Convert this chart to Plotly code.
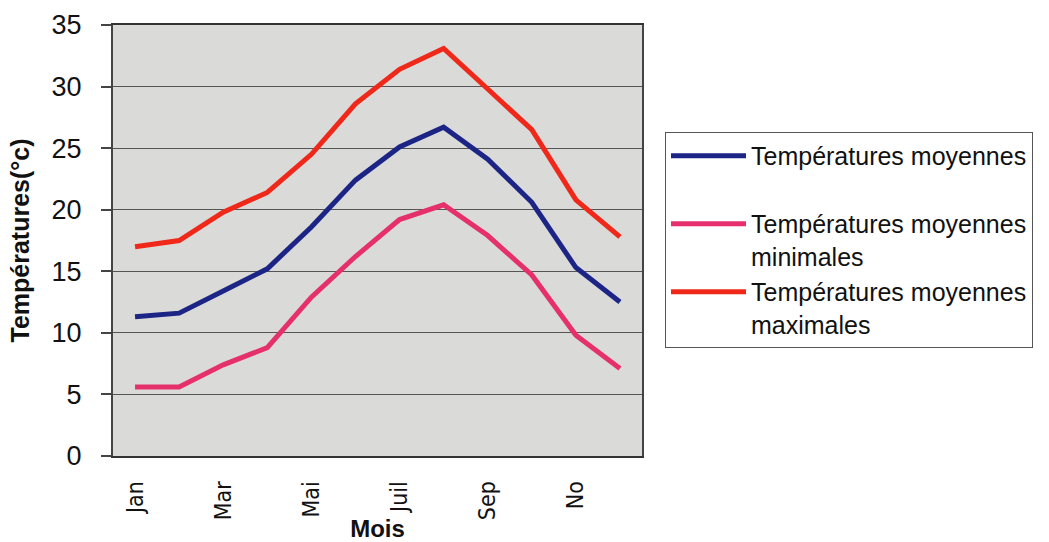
import plotly.graph_objects as go

months = ["Jan", "Fév", "Mar", "Avr", "Mai", "Juin", "Juil", "Août", "Sep", "Oct", "No", "Déc"]
tick_months = ["Jan", "Mar", "Mai", "Juil", "Sep", "No"]

t_moy = [11.3, 11.6, 13.4, 15.2, 18.6, 22.4, 25.1, 26.7, 24.1, 20.6, 15.3, 12.5]
t_min = [5.6, 5.6, 7.4, 8.8, 12.9, 16.2, 19.2, 20.4, 17.9, 14.7, 9.8, 7.1]
t_max = [17.0, 17.5, 19.8, 21.4, 24.5, 28.6, 31.4, 33.1, 29.8, 26.5, 20.8, 17.8]

names = ["Températures moyennes<br> ",
         "Températures moyennes<br>minimales",
         "Températures moyennes<br>maximales"]
colors = ["#1c2585", "#e5306c", "#f0281a"]

fig = go.Figure()
for i, (vals, name, col) in enumerate(zip([t_moy, t_min, t_max], names, colors)):
    fig.add_trace(go.Scatter(x=months, y=vals, mode="lines", name=name,
                             legendgroup="g%d" % i,
                             line=dict(color=col, width=5)))

font_main = "Liberation Sans, Arial, sans-serif"

fig.update_layout(
    width=1049, height=542,
    margin=dict(l=113, r=407, t=25, b=86, autoexpand=False),
    paper_bgcolor="white",
    plot_bgcolor="#dadad8",
    font=dict(family=font_main, color="#111111"),
    showlegend=True,
    legend=dict(
        x=1.0435, y=0.752, xanchor="left", yanchor="top",
        bordercolor="#555555", borderwidth=1,
        bgcolor="white",
        font=dict(size=25, family=font_main, color="#111111"),
        valign="top",
        tracegroupgap=0,
        itemwidth=75,
    ),
    xaxis=dict(
        type="category",
        categoryorder="array", categoryarray=months,
        range=[-0.5, 11.5],
        tickvals=tick_months, ticktext=tick_months,
        tickangle=-90,
        tickfont=dict(size=23, family="Liberation Sans Narrow, DejaVu Sans Condensed, sans-serif", color="#111111"),
        ticks="", ticklabelstandoff=14,
        showgrid=False, automargin=False,
        showline=True, linecolor="#333333", linewidth=2, mirror=True,
        title=dict(text="<b>Mois</b>", font=dict(size=24, family=font_main, color="#111111")),
    ),
    yaxis=dict(
        range=[0, 35], dtick=5,
        tickfont=dict(size=27, family=font_main, color="#111111"),
        ticks="outside", ticklen=10, tickcolor="#444444", tickwidth=1.5,
        ticklabelstandoff=14, automargin=False,
        showgrid=True, gridcolor="#555555", gridwidth=1,
        showline=True, linecolor="#444444", linewidth=2, mirror=True,
        zeroline=False,
        title=dict(text="<b>Températures(°c)</b>", font=dict(size=25, family=font_main, color="#111111")),
    ),
)

fig.write_html("out.html")
